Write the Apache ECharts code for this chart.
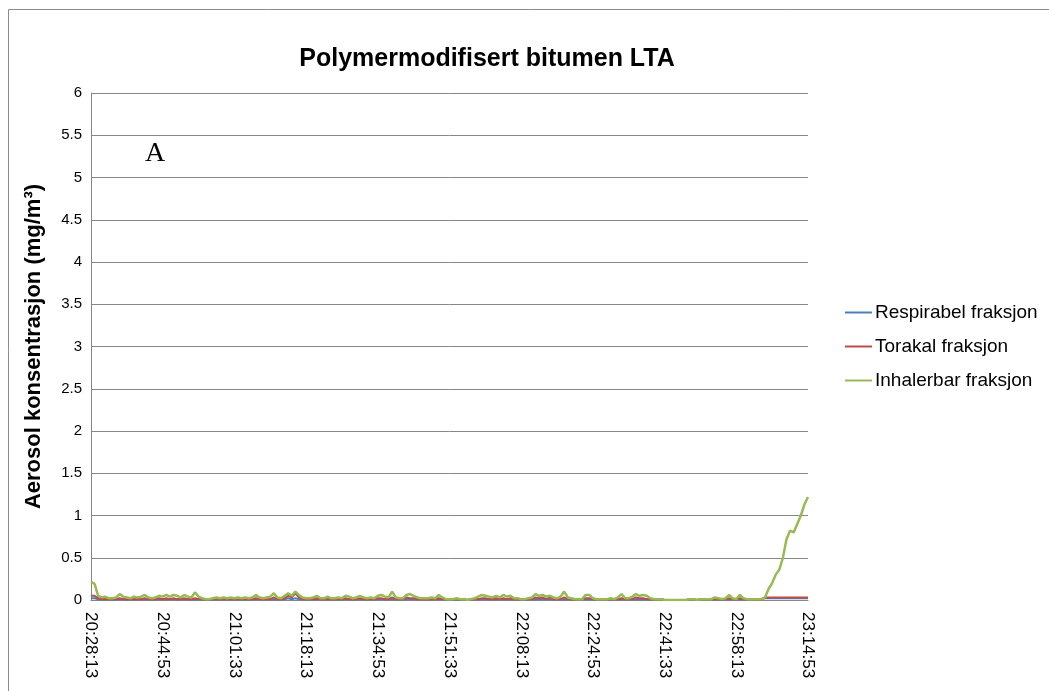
<!DOCTYPE html>
<html>
<head>
<meta charset="utf-8">
<script src="https://cdn.jsdelivr.net/npm/echarts@6/dist/echarts.min.js"></script>
<style>html,body{margin:0;padding:0;background:#fff}#c{width:1049px;height:691px}</style>
</head>
<body>
<div id="c"></div>
<script>
// Time categories: 20:28:13 to 23:14:53, one sample every 50 s
var startTime = '20:28:13';
var stepSeconds = 50;
var sampleCount = 201;
var labelEvery = 20;

var seriesNames = ['Respirabel fraksjon', 'Torakal fraksjon', 'Inhalerbar fraksjon'];

var inhalerbar = [
0.22,0.19,0.05,0.03,0.04,0.02,0.02,0.03,0.07,0.04,
0.03,0.02,0.04,0.03,0.04,0.06,0.03,0.02,0.03,0.05,
0.04,0.06,0.04,0.06,0.05,0.03,0.06,0.04,0.03,0.09,
0.04,0.02,0.01,0.01,0.02,0.03,0.02,0.03,0.02,0.03,
0.02,0.03,0.02,0.03,0.02,0.03,0.06,0.03,0.02,0.03,
0.04,0.08,0.03,0.02,0.05,0.08,0.05,0.10,0.06,0.03,
0.02,0.02,0.03,0.05,0.02,0.02,0.04,0.02,0.02,0.03,
0.02,0.05,0.04,0.02,0.03,0.05,0.03,0.02,0.03,0.02,
0.05,0.06,0.04,0.03,0.10,0.03,0.02,0.02,0.06,0.07,
0.05,0.03,0.02,0.02,0.02,0.03,0.02,0.06,0.03,0.01,
0.01,0.01,0.02,0.01,0.01,0.00,0.01,0.02,0.04,0.06,
0.05,0.04,0.03,0.05,0.03,0.06,0.04,0.05,0.02,0.02,
0.01,0.01,0.02,0.03,0.07,0.05,0.06,0.04,0.05,0.03,
0.02,0.04,0.10,0.03,0.02,0.01,0.01,0.01,0.06,0.06,
0.02,0.01,0.01,0.01,0.01,0.02,0.01,0.03,0.07,0.02,
0.02,0.04,0.07,0.05,0.06,0.05,0.02,0.01,0.01,0.01,
0.00,0.00,0.00,0.00,0.00,0.00,0.00,0.01,0.01,0.00,
0.01,0.01,0.01,0.01,0.03,0.02,0.01,0.02,0.06,0.02,
0.01,0.06,0.02,0.01,0.01,0.01,0.01,0.01,0.03,0.13,
0.20,0.30,0.36,0.50,0.72,0.82,0.80,0.90,1.00,1.13,
1.22
];

var torakal = [
0.05,0.05,0.02,0.01,0.01,0.01,0.01,0.01,0.02,0.01,
0.01,0.01,0.01,0.01,0.01,0.02,0.01,0.01,0.01,0.02,
0.01,0.02,0.01,0.02,0.01,0.01,0.02,0.01,0.01,0.02,
0.01,0.01,0.01,0.01,0.01,0.01,0.01,0.01,0.01,0.01,
0.01,0.01,0.01,0.01,0.01,0.01,0.02,0.01,0.01,0.01,
0.01,0.03,0.01,0.01,0.02,0.05,0.03,0.08,0.03,0.01,
0.01,0.01,0.01,0.02,0.01,0.01,0.01,0.01,0.01,0.01,
0.01,0.02,0.01,0.01,0.01,0.02,0.01,0.01,0.01,0.01,
0.02,0.02,0.01,0.01,0.03,0.01,0.01,0.01,0.03,0.02,
0.02,0.01,0.01,0.01,0.01,0.01,0.01,0.02,0.01,0.01,
0.01,0.01,0.01,0.01,0.01,0.00,0.01,0.01,0.01,0.02,
0.02,0.01,0.01,0.02,0.01,0.02,0.01,0.02,0.01,0.01,
0.01,0.01,0.01,0.01,0.03,0.02,0.03,0.01,0.03,0.01,
0.01,0.01,0.03,0.01,0.01,0.01,0.01,0.01,0.02,0.02,
0.01,0.01,0.01,0.01,0.01,0.01,0.01,0.01,0.02,0.01,
0.01,0.01,0.03,0.02,0.02,0.01,0.01,0.01,0.01,0.01,
0.00,0.00,0.00,0.00,0.00,0.00,0.00,0.01,0.01,0.00,
0.01,0.01,0.01,0.01,0.01,0.01,0.01,0.01,0.02,0.01,
0.01,0.02,0.01,0.01,0.01,0.01,0.01,0.01,0.03,0.03,
0.03,0.03,0.03,0.03,0.03,0.03,0.03,0.03,0.03,0.03,
0.03
];

var respirabel = [
0.02,0.02,0.01,0.01,0.01,0.01,0.01,0.01,0.01,0.01,
0.01,0.01,0.01,0.01,0.01,0.01,0.01,0.01,0.01,0.01,
0.01,0.01,0.01,0.01,0.01,0.01,0.01,0.01,0.01,0.01,
0.01,0.01,0.01,0.01,0.01,0.01,0.01,0.01,0.01,0.01,
0.01,0.01,0.01,0.01,0.01,0.01,0.01,0.01,0.01,0.01,
0.01,0.01,0.01,0.01,0.01,0.02,0.01,0.02,0.01,0.01,
0.01,0.01,0.01,0.01,0.01,0.01,0.01,0.01,0.01,0.01,
0.01,0.01,0.01,0.01,0.01,0.01,0.01,0.01,0.01,0.01,
0.01,0.01,0.01,0.01,0.01,0.01,0.01,0.01,0.01,0.01,
0.01,0.01,0.01,0.01,0.01,0.01,0.01,0.01,0.01,0.01,
0.01,0.01,0.01,0.01,0.01,0.00,0.01,0.01,0.01,0.01,
0.01,0.01,0.01,0.01,0.01,0.01,0.01,0.01,0.01,0.01,
0.01,0.01,0.01,0.01,0.01,0.01,0.01,0.01,0.01,0.01,
0.01,0.01,0.01,0.01,0.01,0.01,0.01,0.01,0.01,0.01,
0.01,0.01,0.01,0.01,0.01,0.01,0.01,0.01,0.01,0.01,
0.01,0.01,0.01,0.01,0.01,0.01,0.01,0.01,0.01,0.01,
0.00,0.00,0.00,0.00,0.00,0.00,0.00,0.01,0.01,0.00,
0.01,0.01,0.01,0.01,0.01,0.01,0.01,0.01,0.01,0.01,
0.01,0.01,0.01,0.01,0.01,0.01,0.01,0.01,0.02,0.02,
0.02,0.02,0.02,0.02,0.02,0.02,0.02,0.02,0.02,0.02,
0.02
];

function buildCategories() {
  var p = startTime.split(':').map(Number);
  var s0 = p[0] * 3600 + p[1] * 60 + p[2];
  var out = [];
  for (var i = 0; i < sampleCount; i++) {
    var s = s0 + i * stepSeconds;
    var h = Math.floor(s / 3600) % 24, m = Math.floor(s / 60) % 60, sec = s % 60;
    out.push(h + ':' + (m < 10 ? '0' : '') + m + ':' + (sec < 10 ? '0' : '') + sec);
  }
  return out;
}
var categories = buildCategories();

var chart = echarts.init(document.getElementById('c'), null, {renderer: 'canvas'});
var font = '"Liberation Sans", Arial, sans-serif';
chart.setOption({
  animation: false,
  backgroundColor: '#fff',
  color: ['#4a7ebb', '#be4b48', '#98b954'],
  title: {
    text: 'Polymermodifisert bitumen LTA',
    left: 482, top: 42, textAlign: 'center',
    textStyle: {fontFamily: font, fontSize: 25, fontWeight: 'bold', color: '#000'}
  },
  legend: {
    orient: 'vertical', left: 840, top: 298,
    icon: 'rect', itemWidth: 27, itemHeight: 2, itemGap: 15,
    textStyle: {fontFamily: font, fontSize: 19, color: '#000', padding: [0,0,0,-2]},
    data: seriesNames
  },
  grid: {left: 91, right: 241, top: 93, bottom: 91, containLabel: false},
  xAxis: {
    type: 'category', data: categories, boundaryGap: false,
    axisLine: {lineStyle: {color: '#868686', width: 1}},
    axisTick: {show: false},
    axisLabel: {interval: labelEvery - 1, rotate: -90, fontFamily: font, fontSize: 17, color: '#000', margin: 12},
    splitLine: {show: false}
  },
  yAxis: {
    type: 'value', min: 0, max: 6, interval: 0.5,
    name: 'Aerosol konsentrasjon (mg/m³)', nameLocation: 'middle', nameGap: 46, nameRotate: 90,
    nameTextStyle: {fontFamily: font, fontSize: 22, fontWeight: 'bold', color: '#000'},
    axisLine: {show: true, lineStyle: {color: '#868686', width: 1}},
    axisTick: {show: false},
    axisLabel: {fontFamily: font, fontSize: 15, color: '#000', margin: 9},
    splitLine: {lineStyle: {color: '#868686', width: 1}}
  },
  series: [
    {name: seriesNames[0], type: 'line', data: respirabel, showSymbol: false, lineStyle: {width: 2}, z: 2},
    {name: seriesNames[1], type: 'line', data: torakal, showSymbol: false, lineStyle: {width: 2}, z: 3},
    {name: seriesNames[2], type: 'line', data: inhalerbar, showSymbol: false, lineStyle: {width: 2.5}, z: 4}
  ],
  graphic: [
    {type: 'rect', shape: {x: 8.5, y: 9.5, width: 1100, height: 800}, style: {fill: null, stroke: '#8c8c8c', lineWidth: 1}, silent: true},
    {type: 'text', left: 145, top: 140, style: {text: 'A', font: '28px "Liberation Serif", "Times New Roman", serif', fill: '#000'}}
  ]
});
</script>
</body>
</html>
